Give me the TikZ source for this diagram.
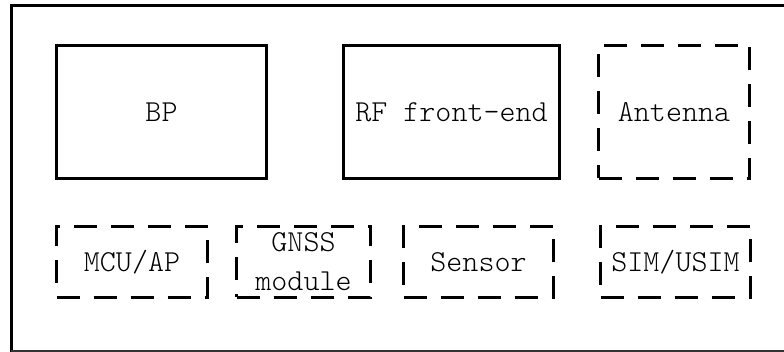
\documentclass[tikz,border=0pt]{standalone}
\tikzset{
  blk/.style={draw,line width=3pt,inner sep=0pt,align=center,
    font=\ttfamily\fontseries{l}\fontsize{30.5}{39}\selectfont},
  optblk/.style={blk,dash pattern=on 23pt off 14pt},% optional parts
}
\begin{document}
\begin{tikzpicture}[x=1pt,y=-1pt]
\useasboundingbox (0,0) rectangle (784,352);

% terminal frame (cut at the right)
\draw[line width=3pt] (784,6) -- (11,6) -- (11,352);
\draw[line width=2pt,black!80] (11,351) -- (784,351);

% top row
\node[blk,minimum width=210pt,minimum height=133pt] (bp) at (161.5,112) {BP};
\node[blk,minimum width=216pt,minimum height=133pt] (rf) at (451.5,112) {RF front-end};
\node[optblk,minimum width=151pt,minimum height=133pt] (ant) at (674,112) {Antenna};

% bottom row
\node[optblk,minimum width=151pt,minimum height=71pt] (mcu) at (132,262) {MCU/AP};
\node[optblk,minimum width=134pt,minimum height=71pt] (gnss) at (303.5,262) {GNSS\\module};
\node[optblk,minimum width=150pt,minimum height=71pt] (sensor) at (478.5,262) {Sensor};
\node[optblk,minimum width=150pt,minimum height=71pt] (sim) at (675.5,262) {SIM/USIM};
\end{tikzpicture}
\end{document}
